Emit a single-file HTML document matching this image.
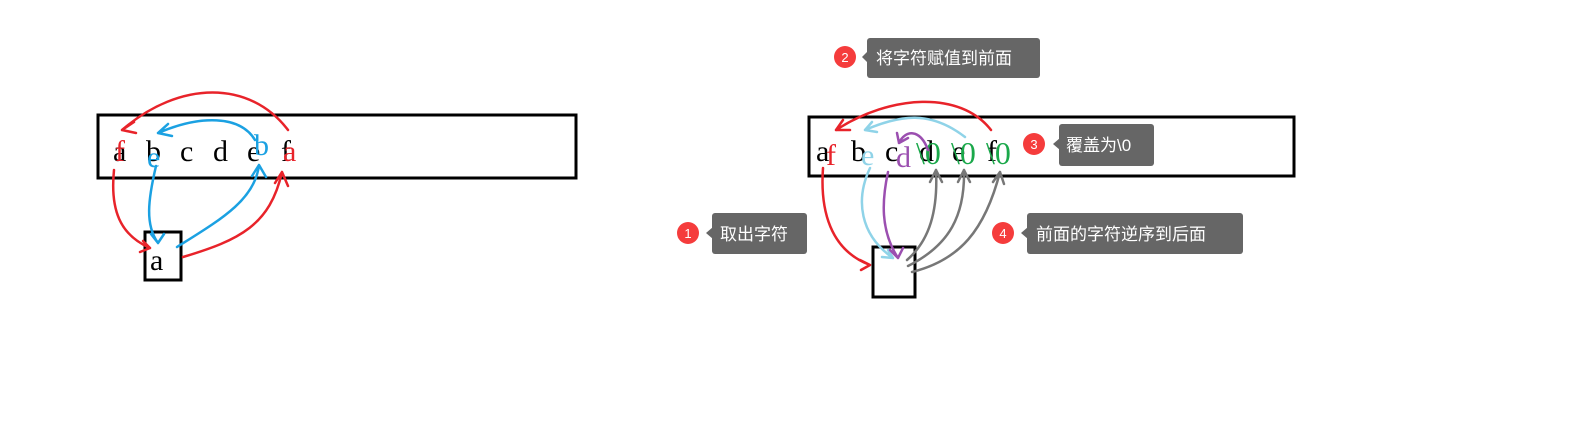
<!DOCTYPE html>
<html><head><meta charset="utf-8"><style>
body{margin:0;background:#fff;}
svg{display:block}
.t{font-family:"Liberation Serif","Noto Serif CJK SC",serif;font-size:30px}
.g{font-size:32px}
.l{font-family:"Liberation Sans","Noto Sans CJK SC",sans-serif;font-size:17px;fill:#fff}
.n{font-family:"Liberation Sans",sans-serif;font-size:13px;fill:#fff;text-anchor:middle}
</style></head><body>
<svg width="1592" height="440" viewBox="0 0 1592 440" xmlns="http://www.w3.org/2000/svg">
<g fill="none" stroke="#000" stroke-width="3">
<rect x="98" y="115" width="478" height="63"/>
<rect x="145" y="232" width="36" height="48"/>
<rect x="809" y="117" width="485" height="59"/>
<rect x="873" y="247" width="42" height="50"/>
</g>
<g class="t" fill="#000">
<text x="113" y="161">a</text><text x="146" y="161">b</text><text x="180" y="161">c</text>
<text x="213" y="161">d</text><text x="247" y="161">e</text><text x="281" y="161">f</text>
<text x="150" y="270">a</text>
</g>
<g class="t">
<text x="115" y="161" fill="#e8232a">f</text>
<text x="147" y="167" fill="#1ba1e2">e</text>
<text x="254" y="155" fill="#1ba1e2">b</text>
<text x="283" y="161" fill="#e8232a">a</text>
</g>
<g fill="none" stroke-width="2.5" stroke-linecap="round">
<path d="M288 130 C250 80 180 80 122 130 M122 130 L134 122 M122 130 L136 133" stroke="#e8232a"/>
<path d="M255 140 C240 115 200 115 158 133 M158 133 L168 124 M158 133 L172 136" stroke="#1ba1e2"/>
<path d="M114 170 C110 210 120 235 150 248 M150 248 L143 241 M150 248 L140 252" stroke="#e8232a"/>
<path d="M156 166 C148 200 145 225 158 243 M158 243 L151 234 M158 243 L164 234" stroke="#1ba1e2"/>
<path d="M177 247 C220 220 255 200 259 165 M259 165 L252 176 M259 165 L266 177" stroke="#1ba1e2"/>
<path d="M183 257 C240 240 270 225 282 172 M282 172 L275 183 M282 172 L288 186" stroke="#e8232a"/>
</g>
<g class="t" fill="#000">
<text x="816" y="161">a</text><text x="851" y="161">b</text><text x="885" y="161">c</text>
<text x="919" y="161">d</text><text x="952" y="161">e</text><text x="987" y="161">f</text>
</g>
<g class="t">
<text x="826" y="165" fill="#e8232a">f</text>
<text x="861" y="165" fill="#8fd3e8">e</text>
<text x="896" y="167" fill="#9b4fb0">d</text>
<text class="t g" x="916" y="164" fill="#1aa84a">\0</text>
<text class="t g" x="951" y="164" fill="#1aa84a">\0</text>
<text class="t g" x="986" y="164" fill="#1aa84a">\0</text>
</g>
<g fill="none" stroke-width="2.5" stroke-linecap="round">
<path d="M991 130 C960 90 890 95 836 130 M836 130 L843 120 M836 130 L850 130" stroke="#e8232a"/>
<path d="M965 137 C930 110 900 115 865 130 M865 130 L872 122 M865 130 L877 132" stroke="#8fd3e8"/>
<path d="M928 150 C920 128 905 130 899 143 M899 143 L897 133 M899 143 L908 138" stroke="#9b4fb0"/>
<path d="M823 168 C820 210 830 250 870 265 M870 265 L860 260 M870 265 L861 270" stroke="#e8232a"/>
<path d="M870 168 C855 200 860 235 893 258 M893 258 L882 257 M893 258 L888 250" stroke="#8fd3e8"/>
<path d="M888 172 C882 200 880 230 898 258 M898 258 L890 250 M898 258 L903 248" stroke="#9b4fb0"/>
<path d="M907 260 C930 240 938 210 936 170 M936 170 L930 182 M936 170 L942 182" stroke="#777"/>
<path d="M908 266 C950 245 965 215 964 170 M964 170 L958 182 M964 170 L970 182" stroke="#777"/>
<path d="M912 272 C960 260 985 230 1000 172 M1000 172 L993 182 M1000 172 L1004 184" stroke="#777"/>
</g>
<g>
<circle cx="845" cy="57" r="11" fill="#f53c3c"/><text class="n" x="845" y="62">2</text>
<path d="M862 57 L868 51 L868 63Z" fill="#666"/>
<rect x="867" y="38" width="173" height="40" rx="3" fill="#666"/><text class="l" x="876" y="64">将字符赋值到前面</text>
<circle cx="1034" cy="144" r="11" fill="#f53c3c"/><text class="n" x="1034" y="149">3</text>
<path d="M1053 144 L1060 138 L1060 150Z" fill="#666"/>
<rect x="1059" y="124" width="95" height="42" rx="3" fill="#666"/><text class="l" x="1066" y="151">覆盖为\0</text>
<circle cx="688" cy="233" r="11" fill="#f53c3c"/><text class="n" x="688" y="238">1</text>
<path d="M706 233 L713 227 L713 239Z" fill="#666"/>
<rect x="712" y="213" width="95" height="41" rx="3" fill="#666"/><text class="l" x="720" y="240">取出字符</text>
<circle cx="1003" cy="233" r="11" fill="#f53c3c"/><text class="n" x="1003" y="238">4</text>
<path d="M1021 233 L1028 227 L1028 239Z" fill="#666"/>
<rect x="1027" y="213" width="216" height="41" rx="3" fill="#666"/><text class="l" x="1036" y="240">前面的字符逆序到后面</text>
</g>
</svg>
</body></html>
